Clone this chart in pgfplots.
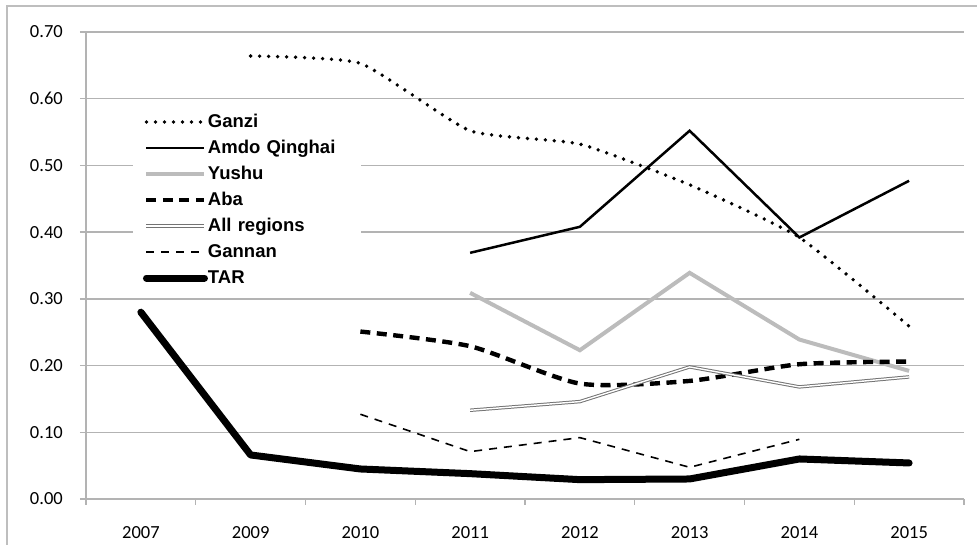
\documentclass[border=0pt]{standalone}
\usepackage{fontspec}
\setmainfont{Liberation Sans}
\newfontfamily\calibri{Carlito}
\usepackage{pgfplots}
\pgfplotsset{compat=1.18}
\definecolor{gridgray}{RGB}{179,179,179}
\definecolor{framegray}{RGB}{190,190,190}
\definecolor{yushu}{RGB}{188,188,188}
\definecolor{allgray}{RGB}{115,115,115}
\begin{document}
\begin{tikzpicture}
\begin{axis}[
  at={(0pt,0pt)}, anchor=south west,
  scale only axis, width=878pt, height=467pt,
  xmin=-0.5, xmax=7.5, ymin=0, ymax=0.7,
  axis x line*=bottom, axis y line*=left,
  axis line style={gridgray, line width=1.3pt},
  xtick={0,1,2,3,4,5,6,7},
  xticklabels={2007,2009,2010,2011,2012,2013,2014,2015},
  minor xtick={-0.5,0.5,1.5,2.5,3.5,4.5,5.5,6.5,7.5},
  ytick={0,0.1,0.2,0.3,0.4,0.5,0.6,0.7},
  ymajorgrids, major grid style={gridgray, line width=1.3pt},
  tick align=outside,
  major tick length=6pt, minor tick length=6pt,
  tick style={gridgray, line width=1.3pt},
  every major x tick/.append style={draw=none},
  scaled y ticks=false,
  tick label style={font=\calibri\fontsize{18.5}{20}\selectfont},
  yticklabel style={/pgf/number format/fixed, /pgf/number format/fixed zerofill, /pgf/number format/precision=2, /pgf/number format/assume math mode=true, anchor=east, inner sep=0pt, xshift=-17pt},
  xticklabel style={/pgf/number format/assume math mode=true, anchor=base, inner sep=0pt, yshift=-34pt},
  legend style={at={(axis description cs:0.0535,0.8501)}, anchor=north west, draw=none, fill=white, inner xsep=10pt, inner ysep=6pt, outer sep=0pt, row sep=0pt,
    font=\bfseries\fontsize{18.5}{18.5}\selectfont,
    nodes={inner sep=0pt, text height=19pt, text depth=7pt},
    /tikz/every even column/.append style={text width=143pt},
    /tikz/every odd column/.append style={column sep=0pt}},
  legend cell align=left,
  legend image code/.code={\draw[#1] (0pt,-1pt) -- (58pt,-1pt);},
]
\addplot[black, line width=3.8pt, line cap=round, dash pattern=on 0pt off 9pt, smooth, tension=0.3]
  coordinates {(1,0.664)(2,0.653)(3,0.552)(4,0.532)(5,0.471)(6,0.392)(7,0.259)};
\addlegendentry{Ganzi}
\addplot[black, line width=2.5pt]
  coordinates {(3,0.369)(4,0.408)(5,0.552)(6,0.392)(7,0.477)};
\addlegendentry{Amdo Qinghai}
\addplot[yushu, line width=4pt]
  coordinates {(3,0.309)(4,0.223)(5,0.339)(6,0.239)(7,0.192)};
\addlegendentry{Yushu}
\addplot[black, line width=4.4pt, dash pattern=on 10pt off 6.5pt, smooth, tension=0.4]
  coordinates {(2,0.251)(3,0.229)(4,0.173)(5,0.177)(6,0.202)(7,0.206)};
\addlegendentry{Aba}
\addplot[allgray, line width=1pt, double=white, double distance=1.4pt]
  coordinates {(3,0.133)(4,0.146)(5,0.198)(6,0.168)(7,0.183)};
\addlegendentry{All regions}
\addplot[black, line width=1.6pt, dash pattern=on 8pt off 7pt]
  coordinates {(2,0.127)(3,0.071)(4,0.092)(5,0.0475)(6,0.0895)};
\addlegendentry{Gannan}
\addplot[black, line width=7pt, line cap=round, line join=round]
  coordinates {(0,0.28)(1,0.066)(2,0.045)(3,0.038)(4,0.029)(5,0.030)(6,0.060)(7,0.054)};
\addlegendentry{TAR}
\end{axis}
\draw[framegray, line width=1.3pt] (-79pt,-46pt) -- (-79pt,493pt) -- (895pt,493pt);
\pgfresetboundingbox
\path (-86pt,-46pt) rectangle (891pt,499pt);
\end{tikzpicture}
\end{document}
